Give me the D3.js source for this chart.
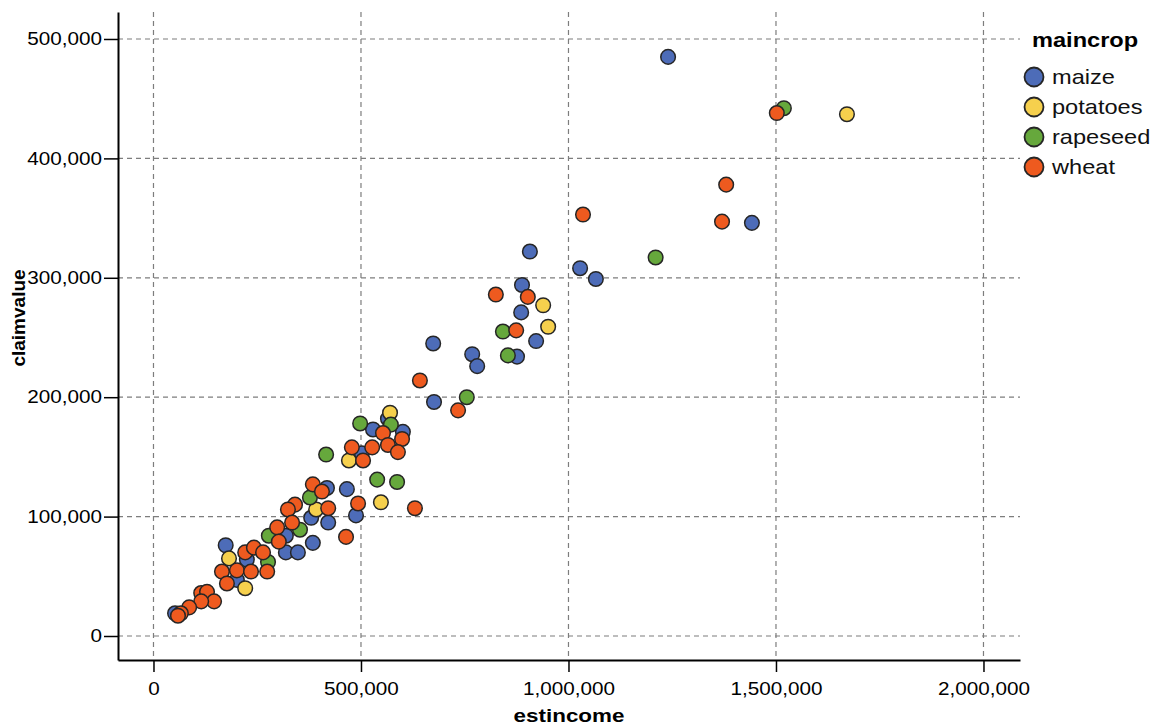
<!DOCTYPE html>
<html>
<head>
<meta charset="utf-8">
<script src="https://cdn.jsdelivr.net/npm/d3@7"></script>
<style>
  body { margin: 0; background: #fff; }
  svg { display: block; font-family: "Liberation Sans", Arial, sans-serif; }
</style>
</head>
<body>
<div id="wrapper"></div>
<script>
// crops and legend order
const crops = ["maize", "potatoes", "rapeseed", "wheat"];
const cropColors = ["#4d6cb8", "#f6d04d", "#66a83c", "#ee5a1f"];

const xTicks = [0, 500000, 1000000, 1500000, 2000000];
const yTicks = [0, 100000, 200000, 300000, 400000, 500000];

// estincome / claimvalue, one pair of arrays per crop
const maizeIncome = [1240000,1442000,907000,1028000,1066000,888000,886000,922000,674000,768000,780000,876000,676000,565000,529000,601000,502000,466000,418000,488000,380000,421000,384000,319000,319000,348000,174000,225000,201000,52000];
const maizeClaim  = [485000,346000,322000,308000,299000,294000,271000,247000,245000,236000,226000,234000,196000,182000,173000,171000,153000,123000,124000,101000,99000,95000,78000,84000,70000,70000,76000,64000,47000,19000];

const potatoIncome = [1671000,939000,951000,570000,471000,548000,392000,182000,221000];
const potatoClaim  = [437000,277000,259000,187000,147000,112000,106000,65000,40000];

const rapeIncome = [1519000,1210000,842000,854000,755000,498000,572000,416000,539000,587000,377000,353000,278000,276000];
const rapeClaim  = [442000,317000,255000,235000,200000,178000,177000,152000,131000,129000,116000,89000,84000,62000];

const wheatIncome = [1502000,1380000,1370000,1035000,825000,902000,874000,642000,734000,553000,599000,478000,527000,565000,589000,505000,384000,406000,493000,630000,421000,464000,341000,324000,334000,298000,302000,221000,242000,264000,274000,165000,201000,235000,177000,115000,129000,146000,115000,86000,66000,59000];
const wheatClaim  = [438000,378000,347000,353000,286000,284000,256000,214000,189000,170000,165000,158000,158000,160000,154000,147000,127000,121000,111000,107000,107000,83000,110000,106000,95000,91000,79000,70000,74000,70000,54000,54000,55000,54000,44000,36000,37000,29000,29000,24000,19000,17000];

const incomes = [maizeIncome, potatoIncome, rapeIncome, wheatIncome];
const claims = [maizeClaim, potatoClaim, rapeClaim, wheatClaim];

let points = [];
crops.forEach(function(c, i) {
  incomes[i].forEach(function(v, j) {
    points.push({crop: c, estincome: v, claimvalue: claims[i][j]});
  });
});

const W = 1162, H = 727;
const m = {left: 118, top: 12, right: 142, bottom: 67};
const pw = W - m.left - m.right, ph = H - m.top - m.bottom;
const stretch = "scale(1.15,1)";

var svg = d3.select("#wrapper").append("svg").attr("width", W).attr("height", H);
var chart = svg.append("g").attr("transform", "translate(" + m.left + "," + m.top + ")");

var x = d3.scaleLinear().domain([-85500, 2088000]).range([0, pw]);
var y = d3.scaleLinear().domain([-20100, 522600]).range([ph, 0]);
var color = d3.scaleOrdinal(crops, cropColors);

// dashed grid
chart.append("g").selectAll("line").data(xTicks).enter().append("line")
  .attr("x1", d => x(d)).attr("x2", d => x(d)).attr("y1", 0).attr("y2", ph)
  .attr("stroke", "#7d7d7d").attr("stroke-width", 1.2).attr("stroke-dasharray", "5,4");
chart.append("g").selectAll("line").data(yTicks).enter().append("line")
  .attr("y1", d => y(d)).attr("y2", d => y(d)).attr("x1", 0).attr("x2", pw)
  .attr("stroke", "#7d7d7d").attr("stroke-width", 1.2).attr("stroke-dasharray", "5,4");

// axes
var xAxis = chart.append("g").attr("transform", "translate(0," + ph + ")")
  .call(d3.axisBottom(x).tickValues(xTicks).tickFormat(d3.format(",")).tickSize(12).tickSizeOuter(0).tickPadding(10));
var yAxis = chart.append("g")
  .call(d3.axisLeft(y).tickValues(yTicks).tickFormat(d3.format(",")).tickSize(14).tickSizeOuter(0).tickPadding(0));

[xAxis, yAxis].forEach(function(a) {
  a.select(".domain").attr("stroke", "#000").attr("stroke-width", 2);
  a.selectAll(".tick line").attr("stroke", "#000").attr("stroke-width", 1.5);
  a.selectAll(".tick text").attr("fill", "#000").style("font-size", "18px")
    .style("font-family", "'Liberation Sans', Arial, sans-serif").attr("transform", stretch);
});

// points
chart.append("g").selectAll("circle").data(points).enter().append("circle")
  .attr("cx", d => x(d.estincome))
  .attr("cy", d => y(d.claimvalue))
  .attr("r", 7.3)
  .attr("fill", d => color(d.crop))
  .attr("stroke", "#262626")
  .attr("stroke-width", 1.5);

// axis titles
svg.append("text").attr("transform", "translate(" + (m.left + pw / 2) + ",722) scale(1.18,1)")
  .attr("text-anchor", "middle").style("font-weight", "bold").style("font-size", "19px").text("estincome");
svg.append("text").attr("transform", "translate(25," + (m.top + 306) + ") rotate(-90)")
  .attr("text-anchor", "middle").style("font-weight", "bold").style("font-size", "19px").text("claimvalue");

// legend
var legend = svg.append("g").attr("transform", "translate(1024,0)");
legend.append("text").attr("transform", "translate(8,47) scale(1.18,1)")
  .style("font-weight", "bold").style("font-size", "20px").text("maincrop");
var item = legend.selectAll(".item").data(crops).enter().append("g")
  .attr("class", "item").attr("transform", (d, i) => "translate(0," + (77 + i * 30) + ")");
item.append("circle").attr("cx", 10).attr("cy", 0).attr("r", 9.5)
  .attr("fill", d => color(d)).attr("stroke", "#262626").attr("stroke-width", 1.8);
item.append("text").attr("transform", "translate(28,7) scale(1.18,1)")
  .style("font-size", "20px").attr("fill", "#111").text(d => d);
</script>
</body>
</html>
